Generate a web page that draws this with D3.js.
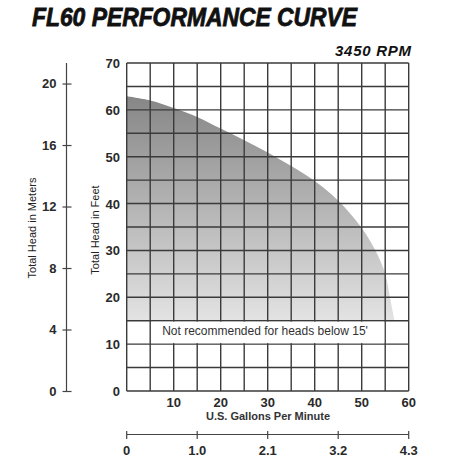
<!DOCTYPE html>
<html>
<head>
<meta charset="utf-8">
<script src="https://cdn.jsdelivr.net/npm/d3@7"></script>
<style>
  body { margin: 0; background: #fff; }
  svg text { font-family: "Liberation Sans", Arial, sans-serif; fill: #222; }
</style>
</head>
<body>
<svg id="chart"></svg>
<script>
// данные кривой (галлоны в минуту -> напор в футах)
let gpm  = [0, 5, 10, 15, 20, 25, 30, 35, 40, 45, 50, 53, 55, 56, 57];
let head = [62.9, 62.0, 60.4, 58.5, 56.0, 53.5, 50.9, 48.0, 44.8, 40.6, 34.8, 29.8, 25, 20, 15];

let feetTicks   = [0, 10, 20, 30, 40, 50, 60, 70];
let meterTicks  = [0, 4, 8, 12, 16, 20];
let gpmTicks    = [10, 20, 30, 40, 50, 60];
let flowTicks   = [0, 15, 30, 45, 60];          // позиции в gpm
let flowLabels  = ["0", "1.0", "2.1", "3.2", "4.3"];
let minHead = 15;

let width = 458, height = 458;
let plotLeft = 126.7, plotRight = 408.7, plotTop = 63, plotBottom = 391;

let svg = d3.select("#chart")
    .attr("width", width)
    .attr("height", height);

let scaleX = d3.scaleLinear().domain([0, 60]).range([plotLeft, plotRight]);
let scaleY = d3.scaleLinear().domain([0, 70]).range([plotBottom, plotTop]);
let scaleM = d3.scaleLinear().domain([0, 70 * 0.3048]).range([plotBottom, plotTop]);

// градиент заливки
let grad = svg.append("defs").append("linearGradient")
    .attr("id", "fillGrad")
    .attr("gradientUnits", "userSpaceOnUse")
    .attr("x1", 0).attr("x2", 0)
    .attr("y1", scaleY(63)).attr("y2", scaleY(minHead));
grad.append("stop").attr("offset", "0%").attr("stop-color", "#868686");
grad.append("stop").attr("offset", "100%").attr("stop-color", "#e3e3e3");

let points = gpm.map((g, i) => ({x: g, y: head[i]}));

let area = d3.area()
    .x(d => scaleX(d.x))
    .y0(scaleY(minHead))
    .y1(d => scaleY(d.y))
    .curve(d3.curveCatmullRom);

svg.append("path")
    .datum(points)
    .attr("d", area)
    .attr("fill", "url(#fillGrad)");

// сетка
let gridX = d3.range(0, 61, 5);
let gridY = d3.range(0, 71, 5);

svg.append("g")
    .selectAll("line")
    .data(gridX)
    .enter()
    .append("line")
    .attr("x1", d => scaleX(d)).attr("x2", d => scaleX(d))
    .attr("y1", plotTop).attr("y2", plotBottom)
    .attr("stroke", "#3a3a3a")
    .attr("stroke-width", 1.4);

svg.append("g")
    .selectAll("line")
    .data(gridY)
    .enter()
    .append("line")
    .attr("x1", plotLeft).attr("x2", plotRight)
    .attr("y1", d => scaleY(d)).attr("y2", d => scaleY(d))
    .attr("stroke", "#3a3a3a")
    .attr("stroke-width", 1.4);

// белая подложка под надписью
svg.append("rect")
    .attr("x", scaleX(5) + 1)
    .attr("y", scaleY(minHead) + 1)
    .attr("width", scaleX(55) - scaleX(5) - 2)
    .attr("height", scaleY(10) - scaleY(minHead) - 2)
    .attr("fill", "#fff");

svg.append("text")
    .attr("x", 265).attr("y", 335)
    .attr("text-anchor", "middle")
    .attr("font-size", 12)
    .style("fill", "#333")
    .text("Not recommended for heads below 15'");

// подписи оси футов
svg.append("g")
    .selectAll("text")
    .data(feetTicks)
    .enter()
    .append("text")
    .attr("x", 120)
    .attr("y", d => scaleY(d) + 5)
    .attr("text-anchor", "end")
    .attr("font-size", 13)
    .attr("font-weight", "bold")
    .style("fill", "#2a2a2a")
    .text(d => d);

// подписи оси галлонов
svg.append("g")
    .selectAll("text")
    .data(gpmTicks)
    .enter()
    .append("text")
    .attr("x", d => scaleX(d))
    .attr("y", 407)
    .attr("text-anchor", "middle")
    .attr("font-size", 13)
    .attr("font-weight", "bold")
    .style("fill", "#2a2a2a")
    .text(d => d);

svg.append("text")
    .attr("x", 268).attr("y", 420)
    .attr("text-anchor", "middle")
    .attr("font-size", 11)
    .attr("font-weight", "bold")
    .style("fill", "#333")
    .text("U.S. Gallons Per Minute");

// ось метров
let axisM = d3.axisLeft(scaleM)
    .tickValues(meterTicks)
    .tickSizeInner(4)
    .tickSizeOuter(0)
    .tickPadding(6);

let gM = svg.append("g")
    .attr("transform", "translate(66.5, 0)")
    .call(axisM);
gM.select(".domain").attr("stroke", "#444").attr("stroke-width", 1.2)
    .attr("d", `M0,${plotTop}V${plotBottom}`);
gM.selectAll(".tick line").attr("x1", -4).attr("x2", 5).attr("stroke", "#444").attr("stroke-width", 1.2);
gM.selectAll(".tick text")
    .attr("font-size", 13)
    .attr("font-family", null)
    .attr("font-weight", "bold")
    .style("fill", "#2a2a2a");

// нижняя ось расхода
let gF = svg.append("g");
gF.append("line")
    .attr("x1", scaleX(0)).attr("x2", scaleX(60))
    .attr("y1", 434.5).attr("y2", 434.5)
    .attr("stroke", "#444").attr("stroke-width", 1.2);
gF.selectAll(".ft")
    .data(flowTicks)
    .enter()
    .append("line")
    .attr("x1", d => scaleX(d)).attr("x2", d => scaleX(d))
    .attr("y1", 431).attr("y2", 439)
    .attr("stroke", "#444").attr("stroke-width", 1.2);
gF.selectAll("text")
    .data(flowTicks)
    .enter()
    .append("text")
    .attr("x", d => scaleX(d))
    .attr("y", 455)
    .attr("text-anchor", "middle")
    .attr("font-size", 13)
    .attr("font-weight", "bold")
    .style("fill", "#2a2a2a")
    .text((d, i) => flowLabels[i]);

// подписи осей
svg.append("text")
    .attr("transform", "translate(36, 228) rotate(-90)")
    .attr("text-anchor", "middle")
    .attr("font-size", 11)
    .text("Total Head in Meters");

svg.append("text")
    .attr("transform", "translate(99, 230) rotate(-90)")
    .attr("text-anchor", "middle")
    .attr("font-size", 11)
    .text("Total Head in Feet");

// заголовки
svg.append("text")
    .attr("x", 32).attr("y", 26)
    .attr("font-size", 25)
    .attr("font-weight", "bold")
    .attr("font-style", "italic")
    .attr("textLength", 325)
    .attr("lengthAdjust", "spacingAndGlyphs")
    .attr("stroke", "#111")
    .attr("stroke-width", 0.8)
    .style("fill", "#111")
    .text("FL60 PERFORMANCE CURVE");

svg.append("text")
    .attr("x", 411).attr("y", 56)
    .attr("text-anchor", "end")
    .attr("font-size", 15)
    .attr("font-weight", "bold")
    .attr("font-style", "italic")
    .attr("textLength", 76)
    .attr("lengthAdjust", "spacing")
    .style("fill", "#111")
    .text("3450 RPM");
</script>
</body>
</html>
